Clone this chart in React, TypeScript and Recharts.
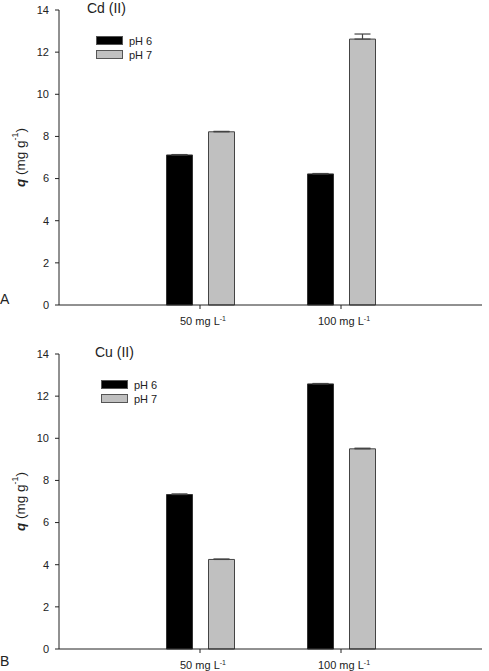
import React from 'react';
import { BarChart, Bar, XAxis, YAxis, ErrorBar } from 'recharts';

const CATEGORIES = ['50', '100'];
const Y_TICKS = [0, 2, 4, 6, 8, 10, 12, 14];

const CD_PH6 = [7.12, 6.22];
const CD_PH7 = [8.22, 12.62];
const CD_PH6_ERR = [0.02, 0.02];
const CD_PH7_ERR = [0.02, 0.24];

const CU_PH6 = [7.33, 12.58];
const CU_PH7 = [4.25, 9.5];
const CU_PH6_ERR = [0.03, 0.02];
const CU_PH7_ERR = [0.02, 0.03];

const FONT = '"Liberation Sans", Arial, sans-serif';
const AXIS = '#222';

function buildRows(ph6: number[], ph7: number[], e6: number[], e7: number[]) {
  return CATEGORIES.map((c, i) => ({
    name: c,
    ph6: ph6[i],
    ph7: ph7[i],
    // only the upper whisker is visible above the bar
    e6: [0, e6[i]],
    e7: [0, e7[i]],
  }));
}

function ConcTick(props: any) {
  const { x, y, payload } = props;
  return (
    <text x={x + 3} y={y + 14} textAnchor="middle" fontFamily={FONT} fontSize={11} fill="#222">
      <tspan>{payload.value} mg L</tspan>
      <tspan dy={-4} fontSize={7}>-1</tspan>
    </text>
  );
}

function YLabel(props: any) {
  const { viewBox } = props;
  const cx = 20;
  const cy = viewBox.y + viewBox.height / 2;
  return (
    <text
      x={cx}
      y={cy}
      transform={`rotate(-90 ${cx} ${cy})`}
      textAnchor="middle"
      dominantBaseline="central"
      fontFamily={FONT}
      fontSize={13.5}
      fill="#222"
    >
      <tspan fontStyle="italic" fontWeight="bold">q</tspan>
      <tspan> (mg g</tspan>
      <tspan dy={-5} fontSize={9}>-1</tspan>
      <tspan dy={5}>)</tspan>
    </text>
  );
}

function LegendBox() {
  const items = [
    { label: 'pH 6', fill: '#000' },
    { label: 'pH 7', fill: '#c0c0c0' },
  ];
  return (
    <svg width={70} height={30} style={{ overflow: 'visible', display: 'block' }}>
      {items.map((it, i) => (
        <g key={it.label}>
          <rect x={0.5} y={i * 14 + 0.5} width={26} height={8} fill={it.fill} stroke="#555" />
          <text x={33} y={i * 14 + 8.5} fontFamily={FONT} fontSize={11} fill="#222">
            {it.label}
          </text>
        </g>
      ))}
    </svg>
  );
}

interface PanelProps {
  title: string;
  rows: ReturnType<typeof buildRows>;
  height: number;
  xAxisHeight: number;
  titleX: number;
  legendX: number;
}

function Panel({ title, rows, height, xAxisHeight, titleX, legendX }: PanelProps) {
  return (
    <div style={{ position: 'relative', width: 489, height }}>
      <BarChart
        width={489}
        height={height}
        data={rows}
        margin={{ top: 10, right: 7, left: 29, bottom: 0 }}
        barSize={26}
        barGap={16}
      >
        <XAxis
          dataKey="name"
          padding={{ left: 70.5, right: 70.5 }}
          height={xAxisHeight}
          tickSize={4}
          stroke={AXIS}
          tickLine={{ stroke: AXIS }}
          tick={<ConcTick />}
          interval={0}
        />
        <YAxis
          width={30}
          domain={[0, 14]}
          ticks={Y_TICKS}
          interval={0}
          tickSize={4}
          tickMargin={6}
          stroke={AXIS}
          tick={{ fontFamily: FONT, fontSize: 11, fill: '#222' }}
          label={<YLabel />}
        />
        <Bar dataKey="ph6" fill="#000" stroke="#333" strokeWidth={1} isAnimationActive={false}>
          <ErrorBar dataKey="e6" width={8} stroke="#444" strokeWidth={1.2} />
        </Bar>
        <Bar dataKey="ph7" fill="#c0c0c0" stroke="#444" strokeWidth={1} isAnimationActive={false}>
          <ErrorBar dataKey="e7" width={8} stroke="#444" strokeWidth={1.2} />
        </Bar>
      </BarChart>
      <div
        style={{
          position: 'absolute',
          left: titleX,
          top: 0,
          fontFamily: FONT,
          fontSize: 14,
          color: '#222',
        }}
      >
        {title}
      </div>
      <div style={{ position: 'absolute', left: legendX, top: 36 }}>
        <LegendBox />
      </div>
    </div>
  );
}

export default function App() {
  const cd = buildRows(CD_PH6, CD_PH7, CD_PH6_ERR, CD_PH7_ERR);
  const cu = buildRows(CU_PH6, CU_PH7, CU_PH6_ERR, CU_PH7_ERR);
  return (
    <div style={{ position: 'absolute', left: 0, top: 0, width: 489, height: 671, overflow: 'hidden', background: '#fff' }}>
      <div style={{ position: 'absolute', left: 0, top: 0 }}>
        <Panel title="Cd (II)" rows={cd} height={335} xAxisHeight={30} titleX={87} legendX={96} />
      </div>
      <div style={{ position: 'absolute', left: 0, top: 344 }}>
        <Panel title="Cu (II)" rows={cu} height={327} xAxisHeight={22} titleX={95} legendX={101} />
      </div>
      <div style={{ position: 'absolute', left: 0, top: 291, fontFamily: FONT, fontSize: 14, color: '#222' }}>A</div>
      <div style={{ position: 'absolute', left: 0, top: 653, fontFamily: FONT, fontSize: 14, color: '#222' }}>B</div>
    </div>
  );
}
